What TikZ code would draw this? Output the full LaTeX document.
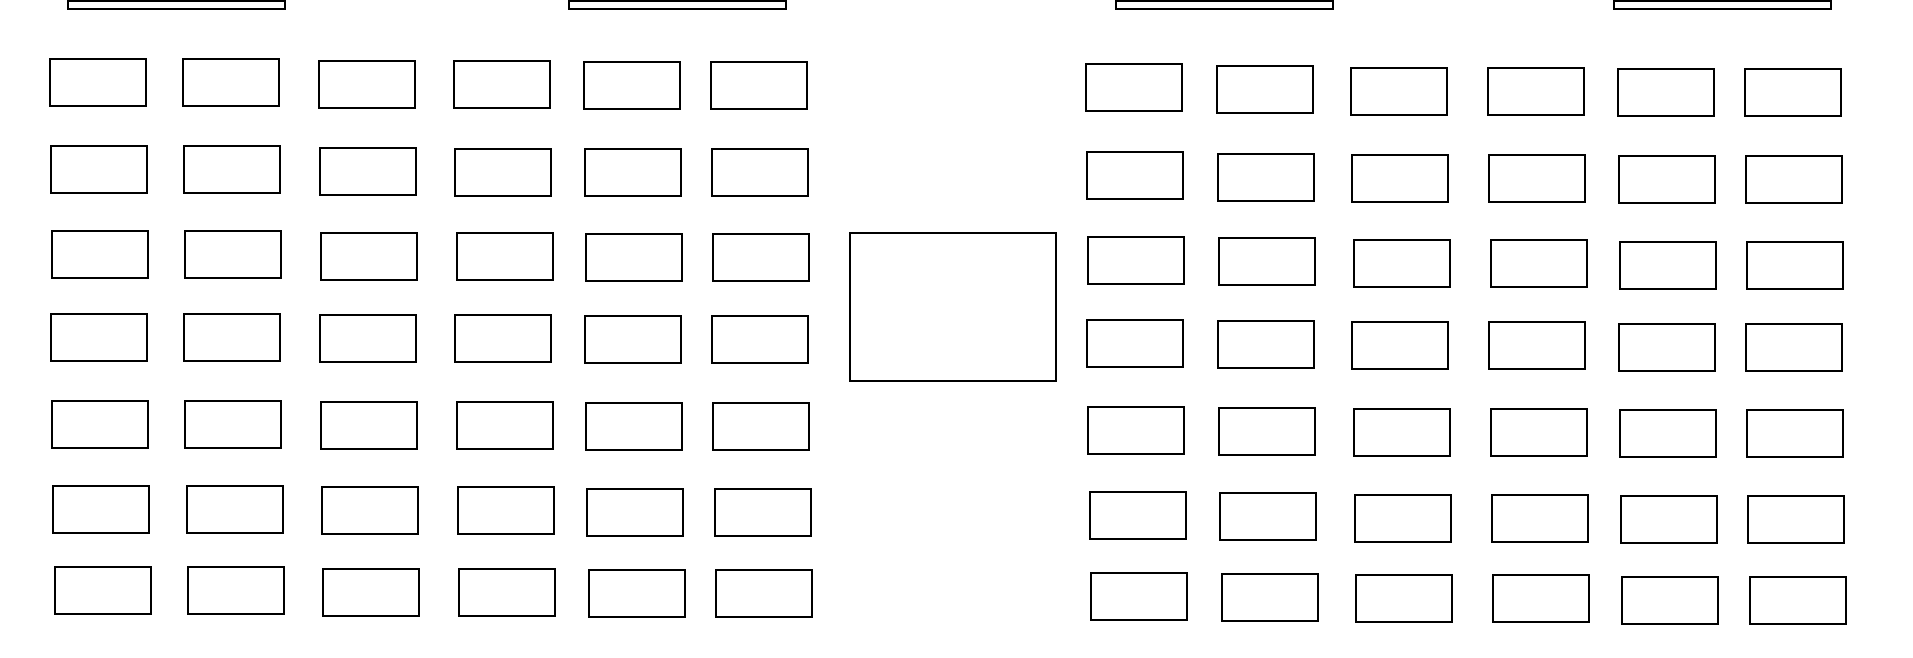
\documentclass[tikz,border=0pt]{standalone}
\begin{document}
\begin{tikzpicture}[x=1.222pt,y=-1.222pt,
  desk/.style={draw=black,line width=2pt,fill=white,inner sep=0pt,minimum width=96pt,minimum height=47pt},
  board/.style={draw=black,line width=2pt,inner sep=0pt,minimum width=217pt,minimum height=8pt},
  table/.style={draw=black,line width=2pt,inner sep=0pt,minimum width=206pt,minimum height=148pt}]
\useasboundingbox[fill=white] (0,0) rectangle (1565.466,538.46);
% boards at top
\node[board] (B1) at (144.4,4.1) {};
\node[board] (B2) at (554.5,4.1) {};
\node[board] (B3) at (1002,4.1) {};
\node[board] (B4) at (1409.6,4.1) {};
% central table
\node[table] (T) at (780,251.2) {};
% left block
\foreach \n/\x/\y in {
 L11/80/67.5, L12/189/67.5, L13/300/69, L14/411/69, L15/517/70, L16/621/70,
 L21/81/139, L22/190/139, L23/301/140, L24/412/141, L25/518/141, L26/622/141,
 L31/82/208.5, L32/191/208.5, L33/302/210, L34/413/210, L35/519/211, L36/623/211,
 L41/81/276, L42/190/276, L43/301/277, L44/412/277, L45/518/278, L46/622/278,
 L51/82/347, L52/191/347, L53/302/348, L54/413/348.5, L55/519/349, L56/623/349,
 L61/83/417, L62/192/417, L63/303/418, L64/414/418, L65/520/419, L66/624/419,
 L71/84/483, L72/193/483, L73/304/484.5, L74/415/484.5, L75/521/485.5, L76/625/485.5}
  \node[desk] (\n) at (\x,\y) {};
% right block
\foreach \n/\x/\y in {
 R11/928/72, R12/1035/73.5, R13/1145/75, R14/1257/75, R15/1363/76, R16/1467/76,
 R21/929/144, R22/1036/145, R23/1146/146, R24/1258/146, R25/1364/147, R26/1468/147,
 R31/930/213, R32/1037/214, R33/1147/216, R34/1259/216, R35/1365/217, R36/1469/217,
 R41/929/281, R42/1036/282, R43/1146/283, R44/1258/283, R45/1364/284, R46/1468/284,
 R51/930/352, R52/1037/353, R53/1147/354, R54/1259/354, R55/1365/355, R56/1469/355,
 R61/931/422, R62/1038/423, R63/1148/424, R64/1260/424, R65/1366/425, R66/1470/425,
 R71/932/488, R72/1039/489, R73/1149/490, R74/1261/490, R75/1367/491, R76/1471/491}
  \node[desk] (\n) at (\x,\y) {};
\end{tikzpicture}
\end{document}
